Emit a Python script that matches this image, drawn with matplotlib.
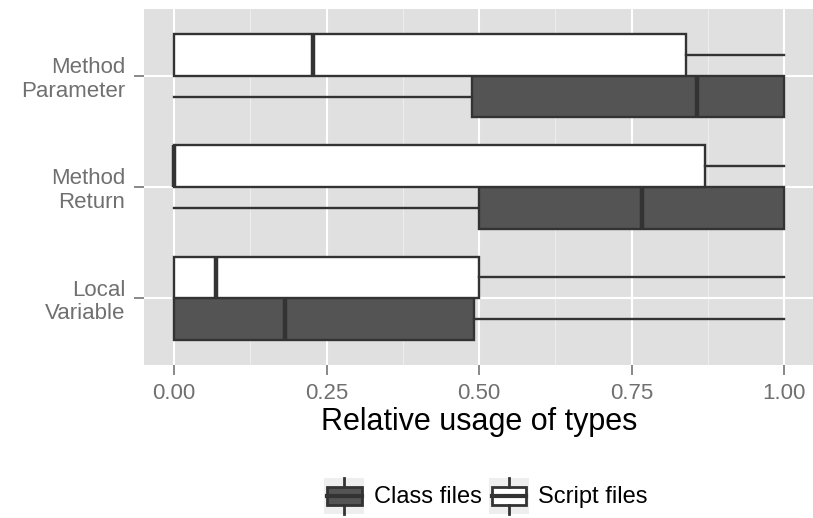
import matplotlib
matplotlib.use("Agg")
import matplotlib.pyplot as plt
from matplotlib.patches import Rectangle, Patch
from matplotlib.lines import Line2D
from matplotlib.legend_handler import HandlerBase

plt.rcParams["font.family"] = ["Liberation Sans", "DejaVu Sans"]

# ---- data -------------------------------------------------------------
categories = ["Local\nVariable", "Method\nReturn", "Method\nParameter"]
groups = ["Class files", "Script files"]

# five-number summaries (whisker low, Q1, median, Q3, whisker high)
class_low = [0.0, 0.0, 0.0]
class_q1 = [0.0, 0.50, 0.488]
class_med = [0.182, 0.767, 0.858]
class_q3 = [0.492, 1.0, 1.0]
class_high = [1.0, 1.0, 1.0]

script_low = [0.0, 0.0, 0.0]
script_q1 = [0.0, 0.0, 0.0]
script_med = [0.069, 0.0, 0.228]
script_q3 = [0.50, 0.870, 0.839]
script_high = [1.0, 1.0, 1.0]

x_ticks = [0.0, 0.25, 0.50, 0.75, 1.00]
x_tick_labels = ["0.00", "0.25", "0.50", "0.75", "1.00"]

# ---- style ------------------------------------------------------------
PANEL = "#E0E0E0"
EDGE = "#333333"
AXIS_GREY = "#707070"
fills = {"Class files": "#545454", "Script files": "#FFFFFF"}
LW = 1.7

W, H, DPI = 813, 518, 100
fig = plt.figure(figsize=(W / DPI, H / DPI), dpi=DPI)
ax = fig.add_axes([143.5 / W, (H - 365) / H, 671 / W, 356 / H])
ax.set_facecolor(PANEL)
for s in ax.spines.values():
    s.set_visible(False)


def summaries(low, q1, med, q3, high):
    return [dict(whislo=a, q1=b, med=c, q3=d, whishi=e, fliers=[])
            for a, b, c, d, e in zip(low, q1, med, q3, high)]


box_w = 0.375
base = list(range(1, len(categories) + 1))
series = [
    ("Class files", summaries(class_low, class_q1, class_med, class_q3, class_high), -box_w / 2),
    ("Script files", summaries(script_low, script_q1, script_med, script_q3, script_high), box_w / 2),
]

for name, stats, off in series:
    ax.bxp(stats, positions=[p + off for p in base], widths=box_w,
           orientation="horizontal", patch_artist=True,
           showcaps=False, showfliers=False,
           boxprops=dict(facecolor=fills[name], edgecolor=EDGE, linewidth=LW),
           whiskerprops=dict(color=EDGE, linewidth=LW),
           medianprops=dict(color=EDGE, linewidth=3.2, solid_capstyle="butt"),
           manage_ticks=False, zorder=3)

ax.set_xlim(-0.05, 1.05)
ax.set_ylim(0.4, len(categories) + 0.6)

ax.set_xticks(x_ticks)
ax.set_xticklabels(x_tick_labels)
ax.set_xticks([0.125, 0.375, 0.625, 0.875], minor=True)
ax.set_yticks(base)
ax.set_yticklabels(categories, ha="right", linespacing=1.15)

ax.set_axisbelow(True)
ax.grid(True, which="major", color="white", linewidth=1.5)
ax.grid(True, which="minor", axis="x", color="#EEEEEE", linewidth=0.8)
ax.tick_params(axis="both", which="major", length=7, width=1.3, color="#7F7F7F",
               labelsize=16, labelcolor=AXIS_GREY, pad=6)
ax.tick_params(axis="both", which="minor", length=0)

ax.set_xlabel("Relative usage of types", fontsize=22, color="black", labelpad=2)


class BoxKey(HandlerBase):
    def create_artists(self, legend, orig_handle, xdescent, ydescent,
                       width, height, fontsize, trans):
        x0, y0 = -xdescent, -ydescent
        fc = orig_handle.get_facecolor()
        bg = Rectangle((x0, y0), width, height, facecolor="#EEEEEE",
                       edgecolor="none", transform=trans)
        bx = Rectangle((x0 + width * 0.07, y0 + height * 0.25), width * 0.86,
                       height * 0.50, facecolor=fc, edgecolor=EDGE,
                       linewidth=2.0, transform=trans)
        med = Line2D([x0 + width * 0.07, x0 + width * 0.93],
                     [y0 + height * 0.5] * 2, color=EDGE, linewidth=3.0,
                     transform=trans)
        wl = Line2D([x0 + width / 2] * 2, [y0, y0 + height * 0.25],
                    color=EDGE, linewidth=2.0, transform=trans)
        wh = Line2D([x0 + width / 2] * 2, [y0 + height * 0.75, y0 + height],
                    color=EDGE, linewidth=2.0, transform=trans)
        return [bg, bx, med, wl, wh]


handles = [Patch(facecolor=fills[g]) for g in groups]
fig.legend(handles, groups, loc="center", ncol=2,
           bbox_to_anchor=(486 / W, (H - 496) / H),
           handler_map={Patch: BoxKey()}, frameon=False, fontsize=17,
           handlelength=1.7, handleheight=2.0, handletextpad=0.4,
           columnspacing=0.3, borderpad=0, borderaxespad=0)

fig.savefig("out.png", dpi=DPI)
